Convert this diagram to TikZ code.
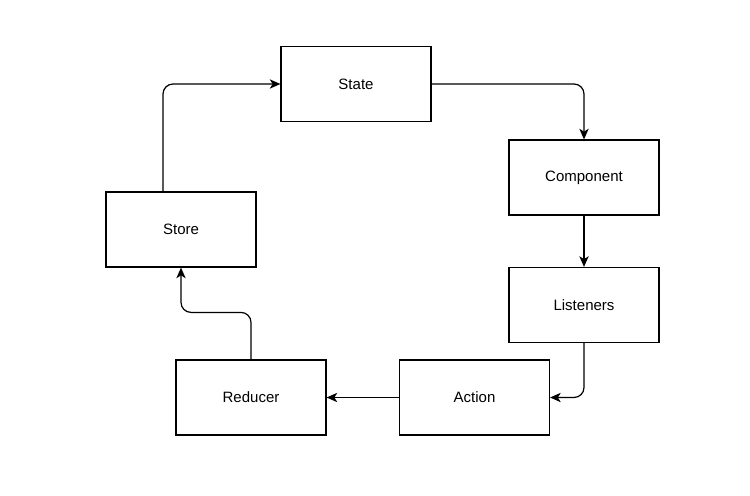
\documentclass[tikz,border=0pt]{standalone}
\usepackage{fontspec}
\setmainfont{Liberation Sans}
\usetikzlibrary{arrows.meta}

\begin{document}
\begin{tikzpicture}[x=0.75pt, y=-0.75pt,
  block/.style={draw, rectangle, line width=0.9pt, minimum width=112.5pt, minimum height=56.25pt, font=\fontsize{11.25}{13}\selectfont},
  flow/.style={line width=0.9pt, rounded corners=7.5pt, -{Stealth[length=8pt, width=7pt, inset=2.2pt]}}]
\useasboundingbox (0,0) rectangle (750,496);

\node[block] at (356,84) (state) {State};
\node[block] at (584,177.5) (component) {Component};
\node[block] at (584,305) (listeners) {Listeners};
\node[block] at (474.5,397.5) (action) {Action};
\node[block] at (251,397.5) (reducer) {Reducer};
\node[block] at (181,229.5) (store) {Store};

\draw[flow] (state.east) -| (component.north);
\draw[flow] (component.south) -- (listeners.north);
\draw[flow] (listeners.south) |- (action.east);
\draw[flow] (action.west) -- (reducer.east);
\draw[flow] (reducer.north) -- ++(0,-47) -| (store.south);
\draw[flow] ([xshift=-13.5pt]store.north) |- (state.west);

\end{tikzpicture}
\end{document}
